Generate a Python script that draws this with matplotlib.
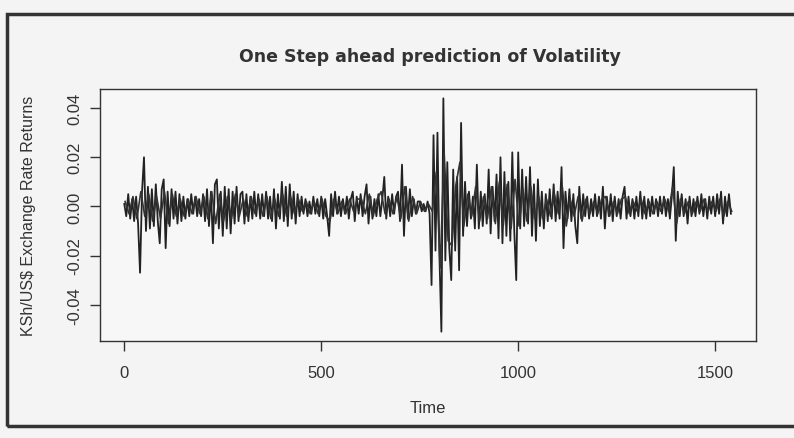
import numpy as np
import matplotlib
matplotlib.use('Agg')
import matplotlib.pyplot as plt
from matplotlib.patches import Rectangle

# returns, one value every 5 days, in units of 0.001
time_step = 5
ret_milli = [
    1, -4, 5, -5, 3, -6, 4, -7, -27, 6,
    20, -10, 8, -9, 7, -8, 9, -6, -15, 7,
    11, -17, 6, -8, 7, -5, 6, -7, 5, -6,
    4, -5, 3, -4, 5, -3, 4, -4, 3, -4,
    5, -6, 7, -8, 6, -15, 9, 11, -9, 6,
    -12, 8, -9, 7, -11, 6, -7, 8, -6, 5,
    6, -7, 5, -6, 4, -5, 6, -4, 5, -5,
    5, -4, 6, -5, 4, -6, 7, -9, 5, -5,
    10, -6, 8, -8, 9, -5, 6, -7, 5, -4,
    4, -3, 3, -4, 2, -3, 4, -3, 3, -4,
    4, -5, 3, -4, -12, 5, -4, 6, -3, 4,
    -4, 3, -3, 4, -5, 3, 6, -6, 4, -3,
    5, -4, 4, 9, -7, 4, -5, 3, -4, 5,
    -4, 3, 12, -5, 4, -4, 5, -3, 4, 6,
    -6, 17, -12, 8, -5, 7, -4, 3, -3, 2,
    2, -2, 1, -2, 2, -3, -32, 29, -18, 30,
    -20, -51, 44, -22, 18, -17, -30, 15, -18, 12,
    -26, 34, -12, 10, -8, 6, -5, 4, -9, 17,
    -9, 6, -8, 5, -7, 15, -11, 8, -6, 13,
    -13, 20, -15, 14, -12, 10, -14, 22, -10, -30,
    22, -9, 15, -8, 12, -7, 16, -12, 9, -14,
    11, -8, 6, -9, 5, -6, 7, -5, 9, -6,
    6, -5, 16, -17, 6, -5, 7, -6, 5, -8,
    -15, 8, -5, 5, -4, 4, -5, 3, -4, 5,
    -4, 4, -5, 8, -9, 4, -4, 5, -6, 4,
    -4, 3, -5, 4, 8, -5, 4, -4, 3, -5,
    4, -4, 6, -5, 4, -5, 3, -4, 4, -3,
    3, -4, 4, -3, 4, -4, 3, -5, 4, 16,
    -14, 6, -4, 5, -4, 3, -7, 4, -4, 3,
    -4, 4, -3, 5, -4, 3, -5, 4, -3, 4,
    -4, 5, -3, 6, -7, 4, -4, 5, -3,
]

# one step ahead predictions, one value every 10 days, units of 0.001
pred_step = 10
pred_milli = [
    2, -3, 4, -5, 6, -4, 5, -6, 4, -5,
    6, -7, 5, -4, 3, -4, 3, -3, 4, -3,
    4, -5, 6, -7, 5, -6, 4, -5, 5, -4,
    3, -4, 4, -3, 3, -4, 4, -5, 3, -4,
    5, -4, 4, -3, 3, -2, 2, -3, 2, -3,
    3, -4, -6, 3, -3, 2, -3, 3, -2, 3,
    3, -3, 5, -4, 3, 6, -3, 3, -3, 4,
    -5, 8, -6, 4, -3, 2, -2, 1, -2, 14,
    -25, 22, -14, -16, 9, 18, -8, 5, -4, 8,
    -6, 4, -5, 8, -7, 10, -8, 9, -9, 11,
    -8, 7, -6, 8, -5, 4, -5, 3, -4, 5,
    -3, 8, -8, 3, -4, 4, -6, 3, -3, 2,
    -3, 3, 4, -4, 2, -3, 3, 4, -3, 2,
    -2, 3, -3, 2, -3, 2, -2, 3, -2, 8,
    -7, 3, -3, 2, -3, 2, -2, 3, -2, 2,
    -2, 3, -4, 2, -2,
]
x_ticks = [0, 500, 1000, 1500]
y_ticks = [-0.04, -0.02, 0.00, 0.02, 0.04]

returns = np.array(ret_milli) / 1000.0
t = 1 + time_step * np.arange(len(returns))
pred = np.array(pred_milli) / 1000.0
tp = 3 + pred_step * np.arange(len(pred))

plt.rcParams['font.family'] = ['Liberation Sans', 'DejaVu Sans']

fig = plt.figure(figsize=(7.94, 4.39), dpi=100, facecolor='#f4f4f4')

# scanned frame round the chart
fig.add_artist(Rectangle((7 / 794, 1 - 427 / 439), 1.0, (427 - 15) / 439,
                         transform=fig.transFigure, fill=False,
                         edgecolor='#333333', linewidth=2.5))

ax = fig.add_axes([100 / 794, 1 - 342 / 439, 656 / 794, 252 / 439])
ax.set_facecolor('#f7f7f7')
ax.plot(t, returns, color='#222222', linewidth=1.3)
ax.plot(tp, pred, color='#333333', linewidth=1.2)
ax.margins(x=0.04, y=0.04)

ax.set_xticks(x_ticks)
ax.set_xticklabels([str(v) for v in x_ticks])
ax.set_yticks(y_ticks)
ax.set_yticklabels(['%.2f' % v for v in y_ticks], rotation=90, va='center')
ax.tick_params(direction='out', length=7, width=1, colors='#333333',
               labelsize=12, pad=10)
ax.tick_params(axis='y', pad=6)
for s in ax.spines.values():
    s.set_color('#333333')
    s.set_linewidth(1.0)

ax.set_xlabel('Time', fontsize=12, color='#333333', labelpad=15)
ax.set_ylabel('KSh/US$ Exchange Rate Returns', fontsize=11.5,
              color='#333333', labelpad=22)
fig.text(430 / 794, 1 - 57 / 439, 'One Step ahead prediction of Volatility',
         ha='center', va='center', fontsize=12.5, fontweight='bold',
         family=['DejaVu Sans'], color='#333333')

fig.savefig('out.png', dpi=100, facecolor=fig.get_facecolor())
